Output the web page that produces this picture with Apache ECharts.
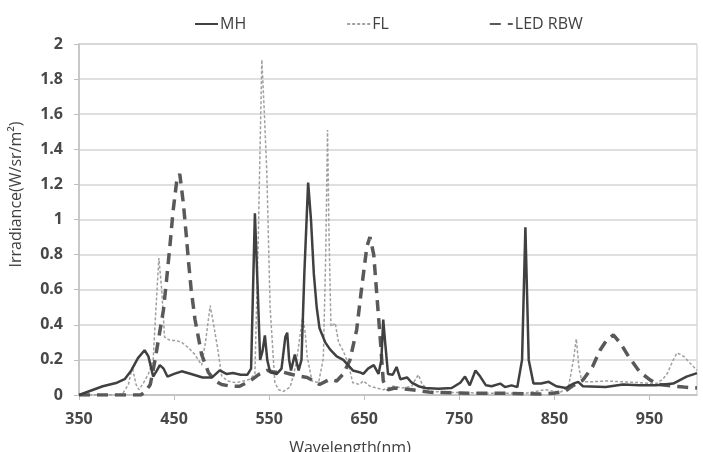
<!DOCTYPE html>
<html>
<head>
<meta charset="utf-8">
<script src="https://cdn.jsdelivr.net/npm/echarts@6.0.0/dist/echarts.min.js"></script>
<style>
  html, body { margin: 0; padding: 0; background: #fff; }
  #main { width: 703px; height: 452px; }
</style>
</head>
<body>
<div id="main"></div>
<script>
// wavelength (nm) / irradiance (W/sr/m2)
var mhWave = [350, 360, 375, 390, 398, 405, 412, 419, 423, 428, 432, 435, 439, 443, 450, 458, 468, 480, 490, 498,
    505, 512, 520, 527, 531, 535, 538, 540.5, 543, 545.5, 548, 551, 558, 563, 567, 569, 571, 573, 577, 581,
    584, 587, 591, 594, 597, 600, 603, 609, 614, 621, 628, 633, 638, 645, 649, 654, 660, 665, 668, 670,
    672, 675, 680, 684, 688, 695, 700, 707, 714, 728, 742, 751, 756, 761, 767, 772, 778, 784, 793, 798,
    805, 811, 816, 819.5, 823, 828, 836, 844, 852, 862, 870, 875, 880, 904, 922, 939, 957, 975, 989, 1000];
var mhVal = [0, 0.02, 0.05, 0.07, 0.09, 0.14, 0.21, 0.255, 0.22, 0.105, 0.14, 0.17, 0.15, 0.105, 0.12, 0.135, 0.12, 0.1, 0.1, 0.14,
    0.12, 0.125, 0.115, 0.115, 0.15, 1.035, 0.6, 0.2, 0.25, 0.34, 0.2, 0.13, 0.12, 0.15, 0.33, 0.355, 0.2, 0.14, 0.23, 0.14,
    0.2, 0.69, 1.21, 1.0, 0.69, 0.5, 0.38, 0.3, 0.26, 0.22, 0.2, 0.17, 0.14, 0.13, 0.12, 0.15, 0.17, 0.12, 0.2, 0.43,
    0.3, 0.12, 0.115, 0.16, 0.09, 0.1, 0.07, 0.05, 0.04, 0.035, 0.04, 0.07, 0.105, 0.055, 0.14, 0.105, 0.055, 0.05, 0.065, 0.045,
    0.055, 0.045, 0.2, 0.955, 0.2, 0.065, 0.065, 0.075, 0.05, 0.04, 0.065, 0.075, 0.05, 0.045, 0.06, 0.055, 0.055, 0.065, 0.105, 0.125];

var flWave = [350, 395, 402, 406, 410, 413, 418, 423, 428, 431, 434, 437, 440, 446, 452, 458, 465, 472, 479, 483,
    488, 491, 496, 500, 506, 515, 523, 530, 535, 538.5, 542.3, 545, 547.6, 551, 556, 560, 565, 572, 576, 579,
    582, 585.4, 588, 590, 595, 602, 607, 609.5, 611.4, 613, 615, 619.5, 623, 628, 633, 638, 645, 649, 656, 663,
    670, 680, 690, 700, 704, 707, 711, 720, 740, 780, 820, 840, 856, 865, 870, 873, 876, 879, 888, 905,
    922, 940, 957, 964, 969, 975, 979, 986, 993, 1000];
var flVal = [0, 0, 0.06, 0.16, 0.06, 0.03, 0.07, 0.12, 0.2, 0.5, 0.78, 0.6, 0.33, 0.31, 0.31, 0.3, 0.27, 0.23, 0.17, 0.3,
    0.51, 0.42, 0.26, 0.11, 0.08, 0.07, 0.08, 0.09, 0.12, 0.88, 1.91, 1.6, 1.26, 0.5, 0.07, 0.03, 0.02, 0.045, 0.12, 0.2,
    0.32, 0.45, 0.35, 0.22, 0.08, 0.07, 0.21, 0.8, 1.51, 0.9, 0.39, 0.41, 0.3, 0.25, 0.18, 0.07, 0.06, 0.08, 0.05, 0.04,
    0.03, 0.05, 0.04, 0.05, 0.09, 0.115, 0.06, 0.02, 0.015, 0.01, 0.01, 0.03, 0.015, 0.05, 0.2, 0.32, 0.15, 0.075, 0.075, 0.08,
    0.075, 0.07, 0.065, 0.09, 0.125, 0.2, 0.24, 0.22, 0.18, 0.14];

var ledWave = [350, 415, 420, 425, 430, 434, 438.7, 442, 445.8, 449, 452.8, 456, 459.8, 463, 465, 468, 472, 479, 486, 493,
    500, 510, 519, 530, 540, 548, 555, 565, 572, 579, 590, 597, 603, 614, 621, 628, 635, 642, 647.5, 652.8,
    656, 660, 663.4, 667, 670, 675, 682, 700, 720, 760, 800, 835, 849, 861, 870, 880, 890, 898, 905, 912,
    919.5, 928, 940, 951, 960, 975, 986, 1000];
var ledVal = [0, 0, 0.02, 0.06, 0.2, 0.33, 0.48, 0.65, 0.86, 1.05, 1.22, 1.26, 1.09, 0.9, 0.77, 0.6, 0.43, 0.23, 0.13, 0.08,
    0.06, 0.05, 0.05, 0.08, 0.12, 0.14, 0.13, 0.13, 0.12, 0.11, 0.1, 0.08, 0.06, 0.09, 0.08, 0.12, 0.2, 0.37, 0.62, 0.845,
    0.9, 0.8, 0.56, 0.31, 0.08, 0.03, 0.04, 0.03, 0.015, 0.01, 0.01, 0.005, 0.01, 0.02, 0.055, 0.085, 0.16, 0.255, 0.313, 0.342,
    0.295, 0.22, 0.13, 0.085, 0.06, 0.05, 0.045, 0.04];

var seriesNames = ['MH', 'FL', 'LED RBW'];

function pairs(xs, ys) {
    return xs.map(function (x, i) { return [x, ys[i]]; });
}

var chartDom = document.getElementById('main');
var myChart = echarts.init(chartDom);
var textColor = '#404040';
var font = 'Open Sans';

var option = {
    animation: false,
    legend: {
        top: 11,
        left: 189,
        itemGap: 100,
        itemWidth: 23,
        itemHeight: 14,
        itemStyle: { opacity: 0 }, // hide the circle, keep the line
        textStyle: { color: textColor, fontFamily: font, fontSize: 16, padding: [0, 0, 0, -3] },
        data: seriesNames
    },
    grid: {
        left: 79,
        right: 6,
        top: 44,
        bottom: 57,
        outerBoundsMode: 'none', // keep the plot where the reference has it
        show: true,
        borderColor: '#c8c8c8',
        borderWidth: 1
    },
    xAxis: {
        type: 'value',
        min: 350,
        max: 1000,
        interval: 100,
        name: 'Wavelength(nm)',
        nameLocation: 'middle',
        nameGap: 45,
        nameTextStyle: { color: textColor, fontFamily: font, fontSize: 16, padding: [0, 76, 0, 0] },
        axisLine: { lineStyle: { color: '#bfbfbf', width: 1.5 } },
        axisTick: { show: true, length: 5, lineStyle: { color: '#bfbfbf' } },
        axisLabel: { color: '#484848', fontFamily: font, fontSize: 16, fontWeight: 'bold', margin: 16, showMaxLabel: false },
        splitLine: { show: false }
    },
    yAxis: {
        type: 'value',
        min: 0,
        max: 2,
        interval: 0.2,
        name: 'Irradiance(W/sr/m²)',
        nameLocation: 'middle',
        nameRotate: 90,
        nameGap: 55,
        nameTextStyle: { color: textColor, fontFamily: font, fontSize: 16, padding: [0, 0, 0, 50] },
        axisLine: { show: true, lineStyle: { color: '#bfbfbf', width: 1.5 } },
        axisTick: { show: true, length: 5, lineStyle: { color: '#bfbfbf' } },
        axisLabel: { color: '#484848', fontFamily: font, fontSize: 16, fontWeight: 'bold', margin: 16 },
        splitLine: { lineStyle: { color: '#d4d4d4', width: 1.5 } }
    },
    series: [
        {
            name: 'MH',
            type: 'line',
            data: pairs(mhWave, mhVal),
            showSymbol: false,
            symbol: 'none',
            z: 3,
            lineStyle: { color: '#404040', width: 2.5 },
            itemStyle: { color: '#404040' }
        },
        {
            name: 'FL',
            type: 'line',
            data: pairs(flWave, flVal),
            showSymbol: false,
            symbol: 'none',
            z: 2,
            lineStyle: { color: '#a0a0a0', width: 1.5, type: [3, 2] },
            itemStyle: { color: '#a0a0a0' }
        },
        {
            name: 'LED RBW',
            type: 'line',
            data: pairs(ledWave, ledVal),
            showSymbol: false,
            symbol: 'none',
            z: 2,
            lineStyle: { color: '#595959', width: 3.5, type: [11, 7] },
            itemStyle: { color: '#595959' }
        }
    ]
};

option && myChart.setOption(option);
</script>
</body>
</html>
